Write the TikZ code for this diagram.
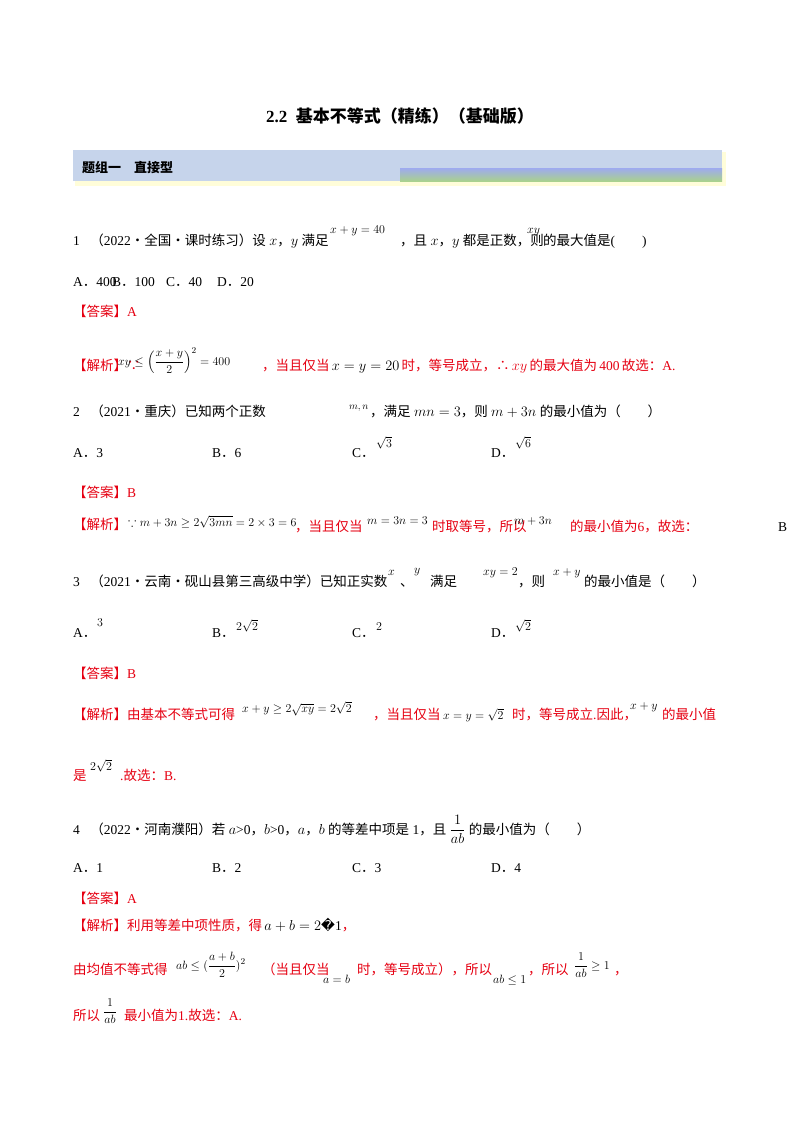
\documentclass[tikz,border=0pt]{standalone}
\usepackage{amsmath,amssymb}
\usepackage{fontspec}
\setmainfont{Liberation Serif}
\newfontfamily\cjk{Noto Sans CJK SC}
\newfontfamily\djv{DejaVu Sans}
\newcommand\zh[1]{{\cjk #1}}
\definecolor{ansred}{RGB}{230,0,18}
\definecolor{barblue}{RGB}{198,212,235}
\definecolor{bargreen}{RGB}{169,209,142}
\usetikzlibrary{calc}
\begin{document}
\begin{tikzpicture}[x=1pt,y=-1pt,
  t/.style={anchor=base west,inner sep=0pt,font=\fontsize{13.5}{16}\selectfont},
  r/.style={t,text=ansred},
  m/.style={t,font=\fontsize{12.5}{15}\selectfont}]
\useasboundingbox[fill=white] (0,0) rectangle (800,1132);
% title and bar
\node[anchor=base,inner sep=0pt,font=\fontsize{17}{20}\selectfont\bfseries] (title) at (400,122) {2.2\ \ \zh{\bfseries 基本不等式（精练）（基础版）}};
\fill[yellow!15] (75,152) rectangle (726,186);
\fill[barblue] (73,150) rectangle (722,181);
\shade[top color=barblue!80!blue, bottom color=bargreen] (400,168) rectangle (722,181);
\node[t,font=\fontsize{13}{16}\selectfont] (grp) at (82,172) {\zh{\bfseries 题组一\quad 直接型}};
% Q1
\node[t] (q1) at (73,245) {1．\zh{（}2022\zh{·全国·课时练习）设} $x$\zh{，}$y$ \zh{满足}};
\node[m] (q1a) at (330,233) {$x+y=40$};
\node[t] (q1b) at (400,245) {\zh{，且} $x$\zh{，}$y$ \zh{都是正数，则}};
\node[m] (q1c) at (527,233) {$xy$};
\node[t] (q1d) at (543,245) {\zh{的最大值是}(\qquad)};
\node[t] (o1a) at (73,286) {A\zh{．}400};
\node[t] (o1b) at (112,286) {B\zh{．}100};
\node[t] (o1c) at (166,286) {C\zh{．}40};
\node[t] (o1d) at (217,286) {D\zh{．}20};
\node[r] (ans1) at (73,316) {\zh{【答案】}A};
\node[r] (ex1) at (73,370) {\zh{【解析】∵}};
\node[m] (ex1m) at (118,365) {$xy\le\left(\dfrac{x+y}{2}\right)^2=400$};
\node[r] (ex1b) at (262,370) {\zh{，当且仅当}\,{\color{black}$x=y=20$}\,\zh{时，等号成立，∴}\,$xy$\,\zh{的最大值为}\,400\,\zh{故选：}A.};
% Q2
\node[t] (q2) at (73,416) {2．\zh{（}2021\zh{·重庆）已知两个正数}};
\node[m,font=\fontsize{10}{12}\selectfont] (q2a) at (349,409) {$m,n$};
\node[t] (q2b) at (370,416) {\zh{，满足} $mn=3$\zh{，则} $m+3n$ \zh{的最小值为（}\qquad\zh{）}};
\node[t] (o2a) at (73,457) {A\zh{．}3};
\node[t] (o2b) at (212,457) {B\zh{．}6};
\node[t] (o2c) at (352,457) {C\zh{．}};
\node[m] (o2cm) at (376,447) {$\sqrt3$};
\node[t] (o2d) at (491,457) {D\zh{．}};
\node[m] (o2dm) at (515,447) {$\sqrt6$};
\node[r] (ans2) at (73,497) {\zh{【答案】}B};
\node[r] (ex2) at (73,529) {\zh{【解析】}};
\node[m] (ex2m) at (128,526) {$\because m+3n\ge2\sqrt{3mn}=2\times3=6$};
\node[r] (ex2b) at (295,531) {\zh{，当且仅当}};
\node[m] (ex2c) at (367,524) {$m=3n=3$};
\node[r] (ex2d) at (432,531) {\zh{时取等号，所以}};
\node[m] (ex2e) at (514,524) {$m+3n$};
\node[r] (ex2f) at (570,531) {\zh{的最小值为}6\zh{，故选：}};
\node[t] (ex2g) at (778,531) {B};
% Q3
\node[t] (q3) at (73,586) {3．\zh{（}2021\zh{·云南·砚山县第三高级中学）已知正实数}};
\node[m] (q3a) at (388,575) {$x$};
\node[t] (q3b) at (400,586) {\zh{、}};
\node[m] (q3c) at (414,573) {$y$};
\node[t] (q3d) at (430,586) {\zh{满足}};
\node[m] (q3e) at (483,575) {$xy=2$};
\node[t] (q3f) at (518,586) {\zh{，则}};
\node[m] (q3g) at (553,575) {$x+y$};
\node[t] (q3h) at (584,586) {\zh{的最小值是（}\qquad\zh{）}};
\node[t] (o3a) at (73,637) {A\zh{．}};
\node[m] (o3am) at (97,626) {$3$};
\node[t] (o3b) at (212,637) {B\zh{．}};
\node[m] (o3bm) at (236,630) {$2\sqrt2$};
\node[t] (o3c) at (352,637) {C\zh{．}};
\node[m] (o3cm) at (376,630) {$2$};
\node[t] (o3d) at (491,637) {D\zh{．}};
\node[m] (o3dm) at (515,630) {$\sqrt2$};
\node[r] (ans3) at (73,678) {\zh{【答案】}B};
\node[r] (ex3) at (73,719) {\zh{【解析】由基本不等式可得}};
\node[m] (ex3m) at (242,712) {$x+y\ge2\sqrt{xy}=2\sqrt2$};
\node[r] (ex3b) at (373,719) {\zh{，当且仅当}};
\node[m] (ex3c) at (443,719) {$x=y=\sqrt2$};
\node[r] (ex3d) at (512,719) {\zh{时，等号成立}.\zh{因此，}};
\node[m] (ex3e) at (630,709) {$x+y$};
\node[r] (ex3f) at (662,719) {\zh{的最小值}};
\node[r] (ex3g) at (73,780) {\zh{是}};
\node[m] (ex3h) at (90,770) {$2\sqrt2$};
\node[r] (ex3i) at (120,780) {.\zh{故选：}B.};
% Q4
\node[t] (q4) at (73,834) {4．\zh{（}2022\zh{·河南濮阳）若} $a$>0\zh{，}$b$>0\zh{，}$a$\zh{，}$b$ \zh{的等差中项是} 1\zh{，且} $\dfrac{1}{ab}$ \zh{的最小值为（}\qquad\zh{）}};
\node[t] (o4a) at (73,872) {A\zh{．}1};
\node[t] (o4b) at (212,872) {B\zh{．}2};
\node[t] (o4c) at (352,872) {C\zh{．}3};
\node[t] (o4d) at (491,872) {D\zh{．}4};
\node[r] (ans4) at (73,903) {\zh{【答案】}A};
\node[r] (ex4) at (73,930) {\zh{【解析】利用等差中项性质，得}\,{\color{black}$a+b=2${\djv\char"FFFD}1}\zh{，}};
\node[r] (ex4b) at (73,974) {\zh{由均值不等式得}};
\node[m] (ex4c) at (176,969) {$ab\le(\dfrac{a+b}{2})^2$};
\node[r] (ex4d) at (262,974) {\zh{（当且仅当}};
\node[m] (ex4e) at (323,983) {$a=b$};
\node[r] (ex4f) at (357,974) {\zh{时，等号成立），所以}};
\node[m] (ex4g) at (493,983) {$ab\le1$};
\node[r] (ex4h) at (528,974) {\zh{，所以}};
\node[m] (ex4i) at (574,969) {$\dfrac{1}{ab}\ge1$};
\node[r] (ex4j) at (614,974) {\zh{，}};
\node[r] (ex4k) at (73,1020) {\zh{所以}};
\node[m] (ex4l) at (103,1015) {$\dfrac{1}{ab}$};
\node[r] (ex4m) at (124,1020) {\zh{最小值为}1.\zh{故选：}A.};
\end{tikzpicture}
\end{document}
